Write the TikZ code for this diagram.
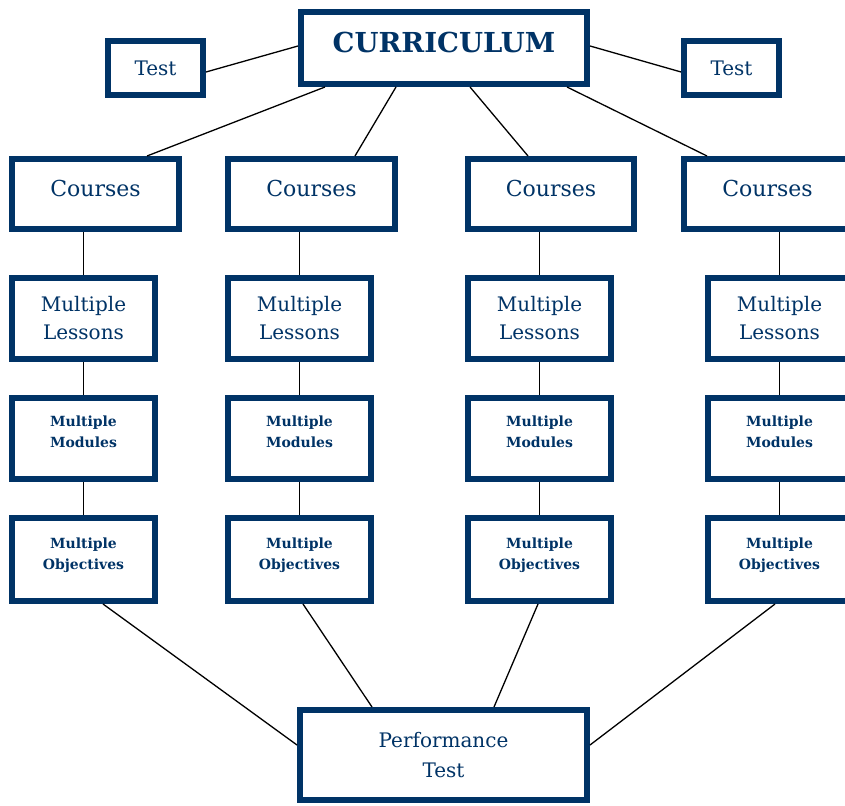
\documentclass[tikz,border=0pt]{standalone}
\usepackage{fontspec}
\setmainfont{DejaVu Serif}
\usetikzlibrary{calc}
\definecolor{navy}{HTML}{003366}
% lift a (possibly multi-line) label without changing its reported size
\newcommand{\liftlabel}[2]{\raisebox{#1}[\height][\depth]{\begin{tabular}{@{}c@{}}#2\end{tabular}}}
\tikzset{
  box/.style={draw=navy, line width=6pt, fill=white, inner sep=0pt, outer sep=3pt,
    text=navy, align=center, anchor=center},
  link/.style={draw=black, line width=1.3pt},
  bigtxt/.style={font=\fontsize{20}{28}\selectfont},
  smalltxt/.style={font=\bfseries\fontsize{14}{21}\selectfont},
}
\begin{document}
\begin{tikzpicture}[x=1pt, y=-1pt]
\clip (0,0) rectangle (845,805);
\fill[white] (0,0) rectangle (845,805);

% top level
\node[box, minimum width=286pt, minimum height=72pt,
  font=\bfseries\fontsize{27.5}{30}\selectfont] (cur) at (444,48) {\liftlabel{1pt}{CURRICULUM}};
\node[box, minimum width=95pt, minimum height=54pt, bigtxt] (tl) at (155.5,68) {Test};
\node[box, minimum width=95pt, minimum height=54pt, bigtxt] (tr) at (731.5,68) {Test};

% courses
\tikzset{coursebox/.style={box, minimum height=70pt, font=\fontsize{22}{26}\selectfont}}
\node[coursebox, minimum width=167pt] (c1) at (95.5,194) {\liftlabel{3pt}{Courses}};
\node[coursebox, minimum width=167pt] (c2) at (311.5,194) {\liftlabel{3pt}{Courses}};
\node[coursebox, minimum width=166pt] (c3) at (551,194) {\liftlabel{3pt}{Courses}};
\node[coursebox, minimum width=167pt] (c4) at (767.5,194) {\liftlabel{3pt}{Courses}};

% lessons, modules and objectives in each column
\foreach \n/\x in {1/83.5, 2/299.5, 3/539.5, 4/779.5} {
  \node[box, minimum width=143pt, minimum height=81pt, bigtxt] (l\n) at (\x,318.5) {Multiple\\Lessons};
  \node[box, minimum width=143pt, minimum height=81pt, smalltxt] (m\n) at (\x,438.5) {\liftlabel{6pt}{Multiple\\Modules}};
  \node[box, minimum width=143pt, minimum height=83pt, smalltxt] (o\n) at (\x,559.5) {\liftlabel{5pt}{Multiple\\Objectives}};
}

% bottom
\node[box, minimum width=287pt, minimum height=90pt,
  font=\fontsize{20}{30}\selectfont] (perf) at (443.5,755) {Performance\\Test};

% connectors from the curriculum
\draw[link] ([yshift=2pt]cur.west) -- ([yshift=-4pt]tl.east);
\draw[link] ([yshift=2pt]cur.east) -- ([yshift=-4pt]tr.west);
\draw[link] ([xshift=-119pt]cur.south) -- ([xshift=51.5pt]c1.north);
\draw[link] ([xshift=-48pt]cur.south) -- ([xshift=43.5pt]c2.north);
\draw[link] ([xshift=26pt]cur.south) -- ([xshift=-23pt]c3.north);
\draw[link] ([xshift=123pt]cur.south) -- ([xshift=-60.5pt]c4.north);

% columns
\foreach \n in {1,2,3,4} {
  \draw[link] (c\n.south -| l\n.north) -- (l\n.north);
  \draw[link] (l\n.south) -- (m\n.north);
  \draw[link] (m\n.south) -- (o\n.north);
}

% connectors to the performance test
\draw[link] ([xshift=19.5pt]o1.south) -- ([yshift=10pt]perf.west);
\draw[link] ([xshift=3.5pt]o2.south) -- ([xshift=-71.5pt]perf.north);
\draw[link] ([xshift=-1.5pt]o3.south) -- ([xshift=50.5pt]perf.north);
\draw[link] ([xshift=-4.5pt]o4.south) -- ([yshift=10pt]perf.east);
\end{tikzpicture}
\end{document}
